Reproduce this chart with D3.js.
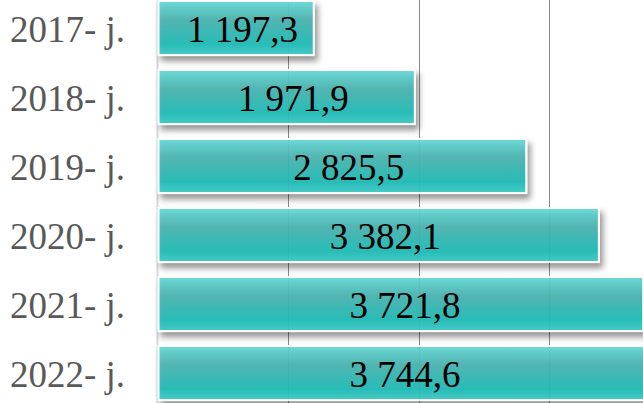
<!DOCTYPE html>
<html>
<head>
<meta charset="utf-8">
<script src="https://cdn.jsdelivr.net/npm/d3@7"></script>
<style>
  body { margin: 0; background: #fff; }
  svg { display: block; }
</style>
</head>
<body>
<script>
var W = 643, H = 403;

var years = ["2017- j.", "2018- j.", "2019- j.", "2020- j.", "2021- j.", "2022- j."];
var values = [1197.3, 1971.9, 2825.5, 3382.1, 3721.8, 3744.6];
var labels = ["1 197,3", "1 971,9", "2 825,5", "3 382,1", "3 721,8", "3 744,6"];
var gridTicks = [1000, 2000, 3000];

var svg = d3.select("body").append("svg")
    .attr("width", W)
    .attr("height", H);

var defs = svg.append("defs");

var grad = defs.append("linearGradient")
    .attr("id", "barGrad")
    .attr("x1", 0).attr("y1", 0).attr("x2", 0).attr("y2", 1);
grad.append("stop").attr("offset", "0%").attr("stop-color", "#63d9d6");
grad.append("stop").attr("offset", "35%").attr("stop-color", "#4bb4b0");
grad.append("stop").attr("offset", "80%").attr("stop-color", "#1ebcb7");
grad.append("stop").attr("offset", "100%").attr("stop-color", "#3fcbc6");

var shadow = defs.append("filter")
    .attr("id", "shadow")
    .attr("x", "-10%").attr("y", "-20%")
    .attr("width", "130%").attr("height", "160%");
shadow.append("feDropShadow")
    .attr("dx", 3).attr("dy", 5)
    .attr("stdDeviation", 3)
    .attr("flood-color", "#000")
    .attr("flood-opacity", 0.45);

var x = d3.scaleLinear()
    .domain([0, 4000])
    .range([157.5, 679.5]);

var y = d3.scaleBand()
    .domain(years)
    .range([-6.5, 407.5])
    .paddingInner(0.217)
    .paddingOuter(0.1085);

// gridlines
svg.append("g")
  .selectAll("line")
  .data(gridTicks)
  .join("line")
    .attr("x1", d => Math.round(x(d)) + 0.5)
    .attr("x2", d => Math.round(x(d)) + 0.5)
    .attr("y1", 0)
    .attr("y2", H)
    .attr("stroke", "#8a8a8a")
    .attr("stroke-width", 1);

// vertical axis line
svg.append("line")
    .attr("x1", x(0)).attr("x2", x(0))
    .attr("y1", 0).attr("y2", H)
    .attr("stroke", "#d9d9d9")
    .attr("stroke-width", 2);

// bars
svg.append("g")
  .selectAll("rect")
  .data(values)
  .join("rect")
    .attr("x", x(0) + 1)
    .attr("y", (d, i) => y(years[i]))
    .attr("width", d => x(d) - x(0) - 1)
    .attr("height", y.bandwidth())
    .attr("fill", "url(#barGrad)")
    .attr("fill-opacity", 0.92)
    .attr("stroke", "#fff")
    .attr("stroke-width", 2)
    .attr("filter", "url(#shadow)");

// value labels
svg.append("g")
  .selectAll("text")
  .data(values)
  .join("text")
    .attr("x", d => Math.min((x(0) + x(d)) / 2 + 7, 405))
    .attr("y", (d, i) => y(years[i]) + y.bandwidth() / 2 + 14)
    .attr("text-anchor", "middle")
    .attr("font-family", "'Liberation Serif', 'Times New Roman', serif")
    .attr("font-size", 37)
    .attr("fill", "#000")
    .text((d, i) => labels[i]);

// category labels
svg.append("g")
  .selectAll("text")
  .data(years)
  .join("text")
    .attr("x", 10)
    .attr("y", d => y(d) + y.bandwidth() / 2 + 14)
    .attr("font-family", "'Liberation Serif', 'Times New Roman', serif")
    .attr("font-size", 37)
    .attr("fill", "#595959")
    .text(d => d);
</script>
</body>
</html>
